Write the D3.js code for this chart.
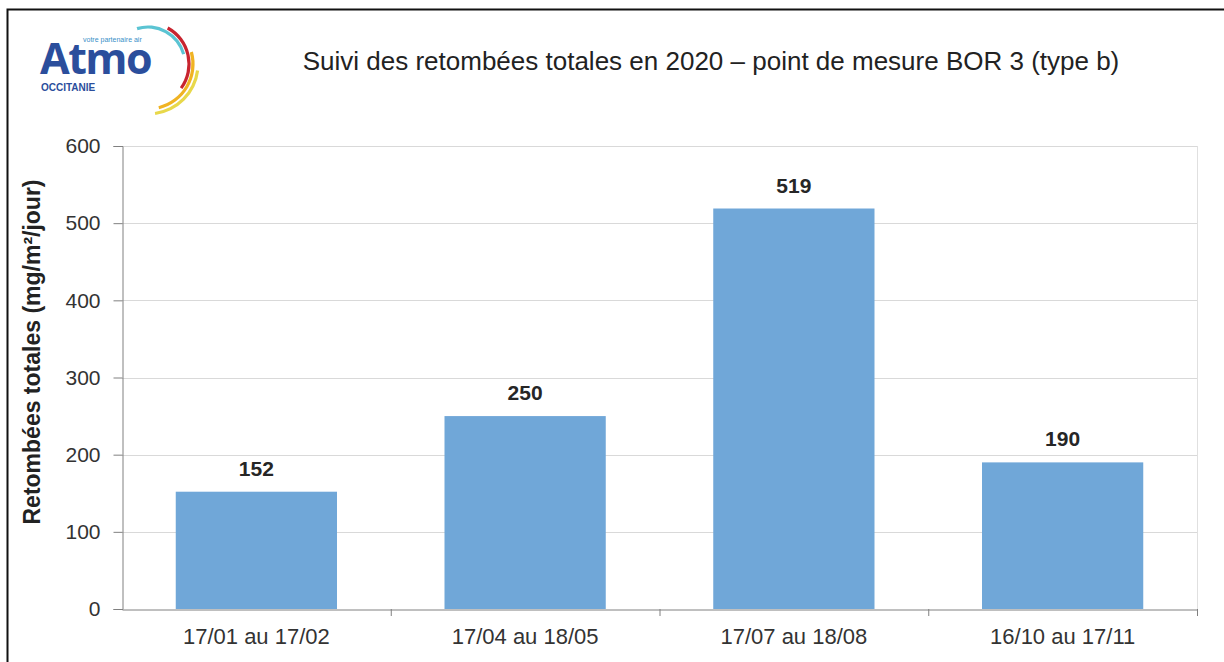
<!DOCTYPE html>
<html>
<head>
<meta charset="utf-8">
<script src="https://cdn.jsdelivr.net/npm/d3@7"></script>
<style>
  body { margin: 0; background: #fff; }
  text { font-family: "Liberation Sans", Arial, sans-serif; }
</style>
</head>
<body>
<script>
// chart values
var periods = ["17/01 au 17/02", "17/04 au 18/05", "17/07 au 18/08", "16/10 au 17/11"];
var retombees = [152, 250, 519, 190];
var yTicks = [0, 100, 200, 300, 400, 500, 600];
var titleText = "Suivi des retombées totales en 2020 – point de mesure BOR 3 (type b)";
var yTitle = "Retombées totales (mg/m²/jour)";

var W = 1224, H = 662;
var margin = {left: 122, right: 27, top: 146, bottom: 53};

var svg = d3.select("body")
    .append("svg")
    .attr("width", W)
    .attr("height", H)

// outer frame
svg.append("path")
    .attr("d", "M 7.5 " + H + " L 7.5 9.5 L " + W + " 9.5")
    .style("fill", "none")
    .style("stroke", "#111")
    .style("stroke-width", 2)

// logo
var logo = svg.append("g")
logo.append("text")
    .attr("x", 40).attr("y", 74)
    .style("font-family", "'Open Sans', sans-serif")
    .style("font-weight", "bold")
    .style("font-size", "43px")
    .style("letter-spacing", "-1.5px")
    .style("fill", "#2b4e9c")
    .text("Atmo")
logo.append("text")
    .attr("x", 83).attr("y", 42)
    .style("font-size", "7px")
    .style("fill", "#3a8fc8")
    .text("votre partenaire air")
logo.append("text")
    .attr("x", 41).attr("y", 91)
    .style("font-weight", "bold")
    .style("font-size", "10px")
    .style("fill", "#2b4e9c")
    .text("OCCITANIE")
var arcs = [
    {r: 37, a0: -0.3, a1: 1.3, c: "#5bc4d3"},
    {r: 41, a0: 0.5, a1: 2.2, c: "#c8242f"},
    {r: 45, a0: 1.3, a1: 2.9, c: "#f0b323"},
    {r: 50, a0: 1.7, a1: 3.0, c: "#e8d84a"}
];
arcs.forEach(function (d) {
    logo.append("path")
        .attr("transform", "translate(148,64)")
        .attr("d", d3.arc().innerRadius(d.r - 1.6).outerRadius(d.r + 1.6)
            .startAngle(d.a0).endAngle(d.a1)())
        .style("fill", d.c)
})

// title
svg.append("text")
    .attr("x", 711).attr("y", 70)
    .attr("text-anchor", "middle")
    .style("font-size", "26px")
    .style("fill", "#222")
    .text(titleText)

var x = d3.scaleBand()
    .domain(periods)
    .range([margin.left, W - margin.right])
    .paddingInner(0.4)
    .paddingOuter(0.2)

var xTicksScale = d3.scaleBand()
    .domain(periods)
    .range([margin.left, W - margin.right])

var y = d3.scaleLinear()
    .domain([0, 600])
    .range([H - margin.bottom, margin.top])

// gridlines
svg.append("g")
    .selectAll("line")
    .data(yTicks.slice(1))
    .enter().append("line")
    .attr("x1", margin.left).attr("x2", W - margin.right)
    .attr("y1", function (d) { return Math.round(y(d)) + 0.5; })
    .attr("y2", function (d) { return Math.round(y(d)) + 0.5; })
    .style("stroke", "#d9d9d9")
    .style("stroke-width", 1)

// right border of plot area
svg.append("line")
    .attr("x1", W - margin.right + 0.5).attr("x2", W - margin.right + 0.5)
    .attr("y1", margin.top).attr("y2", H - margin.bottom)
    .style("stroke", "#e0e0e0")

// bars
svg.append("g")
    .selectAll("rect")
    .data(retombees)
    .enter().append("rect")
    .attr("x", function (d, i) { return x(periods[i]); })
    .attr("width", x.bandwidth())
    .attr("y", function (d) { return y(d); })
    .attr("height", function (d) { return y(0) - y(d); })
    .style("fill", "#70a7d8")

// value labels
svg.append("g")
    .selectAll("text")
    .data(retombees)
    .enter().append("text")
    .attr("x", function (d, i) { return x(periods[i]) + x.bandwidth() / 2; })
    .attr("y", function (d) { return y(d) - 16; })
    .attr("text-anchor", "middle")
    .style("font-weight", "bold")
    .style("font-size", "21px")
    .style("fill", "#262626")
    .text(function (d) { return d; })

// y axis
var yAxis = svg.append("g")
    .attr("transform", "translate(" + (margin.left + 0.5) + ",0)")
    .call(d3.axisLeft(y).tickValues(yTicks).tickSize(9).tickPadding(13))
yAxis.select(".domain").style("stroke", "#808080")
yAxis.selectAll(".tick line").style("stroke", "#808080")
yAxis.selectAll(".tick text")
    .style("font-size", "21px")
    .style("fill", "#333")

// x axis
var xAxis = svg.append("g")
    .attr("transform", "translate(0," + (H - margin.bottom + 0.5) + ")")
    .call(d3.axisBottom(xTicksScale).tickSize(0).tickPadding(19))
xAxis.select(".domain").style("stroke", "#808080")
xAxis.selectAll(".tick text")
    .style("font-size", "22px")
    .style("fill", "#333")
// category separators
svg.append("g")
    .selectAll("line")
    .data(periods)
    .enter().append("line")
    .attr("x1", function (d) { return xTicksScale(d) + xTicksScale.bandwidth() + 0.5; })
    .attr("x2", function (d) { return xTicksScale(d) + xTicksScale.bandwidth() + 0.5; })
    .attr("y1", H - margin.bottom)
    .attr("y2", H - margin.bottom + 7)
    .style("stroke", "#808080")

// y title
svg.append("text")
    .attr("transform", "translate(40,352) rotate(-90)")
    .attr("text-anchor", "middle")
    .style("font-weight", "bold")
    .style("font-size", "23px")
    .style("fill", "#222")
    .text(yTitle)
</script>
</body>
</html>
